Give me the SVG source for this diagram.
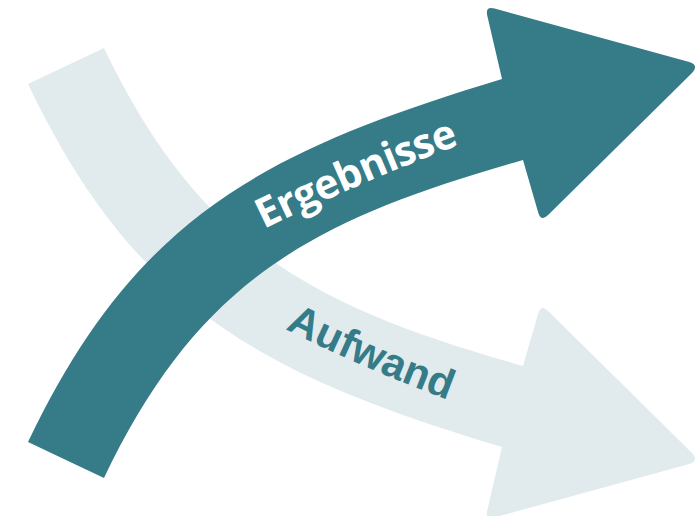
<svg xmlns="http://www.w3.org/2000/svg" xmlns:xlink="http://www.w3.org/1999/xlink" width="698" height="516" viewBox="0 0 698 516">
  <style>
    .dark { fill: #367b88; }
    .light { fill: #e1eaed; }
    .lbl { font-weight: 700; }
    .lbl-e { font-family: "Open Sans", "Lato", sans-serif; font-size: 41px; fill: #ffffff; }
    .lbl-a { font-family: "Liberation Sans", Arial, sans-serif; font-size: 42px; fill: #367b88; }
  </style>
  <defs>
    <path id="curvedArrow" d="M28,442 C135.5,217 262.7,151.5 502,79 L487.3,15.7 Q485,6 494.6,8.6 L688.4,61.8 Q700,65 691.5,73.4 L548.1,215 Q541,222 538.2,212.4 L523,160 C311.4,219.8 198.6,280 104,478 Z"/>
    <path id="baseE" d="M264,229 C322.4,200.5 395.1,168.8 456,146 L500,130" fill="none"/>
    <path id="baseA" d="M285,329 C338.7,355.8 389.8,378 446,399 L478,411" fill="none"/>
  </defs>
  <rect width="698" height="516" fill="#ffffff"/>
  <g id="aufwand">
    <use xlink:href="#curvedArrow" href="#curvedArrow" class="light" transform="translate(0,526) scale(1,-1)"/>
    <text class="lbl lbl-a"><textPath xlink:href="#baseA" href="#baseA" textLength="178">Aufwand</textPath></text>
  </g>
  <g id="ergebnisse">
    <use xlink:href="#curvedArrow" href="#curvedArrow" class="dark"/>
    <text class="lbl lbl-e"><textPath xlink:href="#baseE" href="#baseE" textLength="213">Ergebnisse</textPath></text>
  </g>
</svg>
